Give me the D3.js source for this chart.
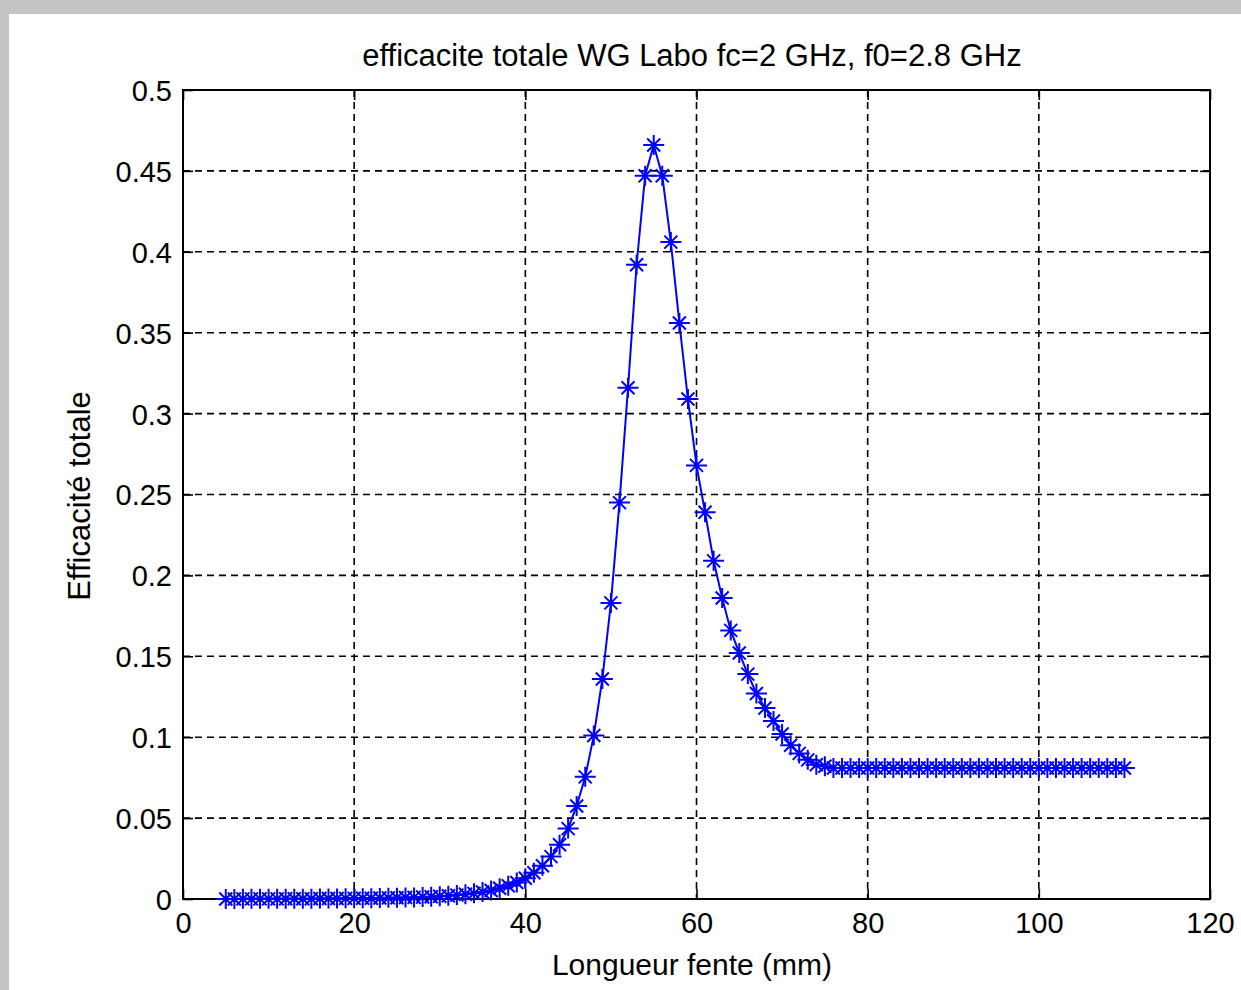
<!DOCTYPE html>
<html>
<head>
<meta charset="utf-8">
<script src="https://d3js.org/d3.v7.min.js"></script>
<style>
  html, body { margin: 0; padding: 0; background: #fff; }
  svg { display: block; }
  text { font-family: "Liberation Sans", Arial, sans-serif; fill: #000; }
</style>
</head>
<body>
<script>
// ---- data ----
const chartTitle = "efficacite totale WG Labo fc=2 GHz, f0=2.8 GHz";
const xLabel = "Longueur fente (mm)";
const yLabel = "Efficacité totale";
const xTicks = [0, 20, 40, 60, 80, 100, 120];
const yTicks = [0, 0.05, 0.1, 0.15, 0.2, 0.25, 0.3, 0.35, 0.4, 0.45, 0.5];
const slotLength = [
  5, 6, 7, 8, 9, 10, 11, 12, 13, 14, 15, 16, 17, 18, 19, 20,
  21, 22, 23, 24, 25, 26, 27, 28, 29, 30, 31, 32, 33, 34, 35, 36,
  37, 38, 39, 40, 41, 42, 43, 44, 45, 46, 47, 48, 49, 50, 51, 52,
  53, 54, 55, 56, 57, 58, 59, 60, 61, 62, 63, 64, 65, 66, 67, 68,
  69, 70, 71, 72, 73, 74, 75, 76, 77, 78, 79, 80, 81, 82, 83, 84,
  85, 86, 87, 88, 89, 90, 91, 92, 93, 94, 95, 96, 97, 98, 99, 100,
  101, 102, 103, 104, 105, 106, 107, 108, 109, 110
];
const efficiency = [
  0.0000, 0.0000, 0.0001, 0.0001, 0.0001, 0.0001, 0.0001, 0.0002, 0.0002, 0.0002, 0.0002, 0.0003, 0.0003, 0.0003, 0.0004, 0.0004,
  0.0005, 0.0005, 0.0006, 0.0007, 0.0008, 0.0009, 0.0010, 0.0012, 0.0014, 0.0017, 0.0020, 0.0024, 0.0029, 0.0035, 0.0043, 0.0053,
  0.0066, 0.0082, 0.0102, 0.0128, 0.0162, 0.0205, 0.0262, 0.0335, 0.0435, 0.0575, 0.0755, 0.101, 0.136, 0.183, 0.245, 0.316,
  0.392, 0.447, 0.466, 0.447, 0.406, 0.356, 0.309, 0.268, 0.239, 0.209, 0.186, 0.166, 0.152, 0.139, 0.127, 0.118,
  0.110, 0.102, 0.095, 0.090, 0.086, 0.083, 0.082, 0.081, 0.081, 0.081, 0.081, 0.081, 0.081, 0.081, 0.081, 0.081,
  0.081, 0.081, 0.081, 0.081, 0.081, 0.081, 0.081, 0.081, 0.081, 0.081, 0.081, 0.081, 0.081, 0.081, 0.081, 0.081,
  0.081, 0.081, 0.081, 0.081, 0.081, 0.081, 0.081, 0.081, 0.081, 0.081
];

// ---- layout ----
const W = 1241, H = 990;
const plot = { left: 183, right: 1210, top: 90, bottom: 899 };

const svg = d3.select("body").append("svg").attr("width", W).attr("height", H);

// frame background (grey border band)
svg.append("rect").attr("x", 0).attr("y", 0).attr("width", W).attr("height", H).attr("fill", "#c3c4c4");
svg.append("rect").attr("x", 9).attr("y", 14).attr("width", W - 9).attr("height", H - 14).attr("fill", "#fff");

const x = d3.scaleLinear().domain([0, 120]).range([plot.left, plot.right]);
const y = d3.scaleLinear().domain([0, 0.5]).range([plot.bottom, plot.top]);

// grid
const grid = svg.append("g").attr("stroke", "#000").attr("stroke-width", 1.6).attr("stroke-dasharray", "7,5");
grid.selectAll("line.gx").data(xTicks.filter(t => t > 0 && t < 120)).enter().append("line")
  .attr("x1", d => x(d)).attr("x2", d => x(d)).attr("y1", plot.top).attr("y2", plot.bottom);
grid.selectAll("line.gy").data(yTicks.filter(t => t > 0 && t < 0.5)).enter().append("line")
  .attr("y1", d => y(d)).attr("y2", d => y(d)).attr("x1", plot.left).attr("x2", plot.right);

// axes with inward ticks
const tickLen = 10;
const fmtY = d => (d === 0 ? "0" : String(+d.toFixed(2)));
const axB = svg.append("g").attr("transform", `translate(0,${plot.bottom})`)
  .call(d3.axisBottom(x).tickValues(xTicks).tickSizeInner(-tickLen).tickSizeOuter(0).tickPadding(13).tickFormat(d3.format("d")));
const axT = svg.append("g").attr("transform", `translate(0,${plot.top})`)
  .call(d3.axisTop(x).tickValues(xTicks).tickSizeInner(-tickLen).tickSizeOuter(0).tickFormat(""));
const axL = svg.append("g").attr("transform", `translate(${plot.left},0)`)
  .call(d3.axisLeft(y).tickValues(yTicks).tickSizeInner(-tickLen).tickSizeOuter(0).tickPadding(11).tickFormat(fmtY));
const axR = svg.append("g").attr("transform", `translate(${plot.right},0)`)
  .call(d3.axisRight(y).tickValues(yTicks).tickSizeInner(-tickLen).tickSizeOuter(0).tickFormat(""));
[axB, axT, axL, axR].forEach(a => {
  a.select(".domain").remove();
  a.selectAll("line").attr("stroke", "#000").attr("stroke-width", 1.6);
  a.selectAll("text").attr("font-size", 29).attr("fill", "#000")
    .style("font-family", '"Liberation Sans", Arial, sans-serif');
});
axB.selectAll("text").attr("dy", "0.71em");
axL.selectAll("text").attr("dy", "0.36em");

// box
svg.append("rect").attr("x", plot.left).attr("y", plot.top)
  .attr("width", plot.right - plot.left).attr("height", plot.bottom - plot.top)
  .attr("fill", "none").attr("stroke", "#000").attr("stroke-width", 2);

// data line
const pts = slotLength.map((v, i) => [v, efficiency[i]]);
svg.append("path").datum(pts)
  .attr("fill", "none").attr("stroke", "#0000ff").attr("stroke-width", 2)
  .attr("d", d3.line().x(d => x(d[0])).y(d => y(d[1])));

// asterisk markers
const star = "M-10.5,0H10.5M0,-10V10M-6.5,-6.5L6.5,6.5M-6.5,6.5L6.5,-6.5";
svg.append("g").selectAll("path").data(pts).enter().append("path")
  .attr("transform", d => `translate(${x(d[0])},${y(d[1])})`)
  .attr("d", star).attr("fill", "none").attr("stroke", "#0000ff").attr("stroke-width", 2);

// title & labels
svg.append("text").attr("x", 692).attr("y", 66)
  .attr("text-anchor", "middle").attr("font-size", 31).text(chartTitle);
svg.append("text").attr("x", 692).attr("y", 975)
  .attr("text-anchor", "middle").attr("font-size", 30).text(xLabel);
svg.append("text").attr("transform", `translate(90,496) rotate(-90)`)
  .attr("text-anchor", "middle").attr("font-size", 31).text(yLabel);
</script>
</body>
</html>
